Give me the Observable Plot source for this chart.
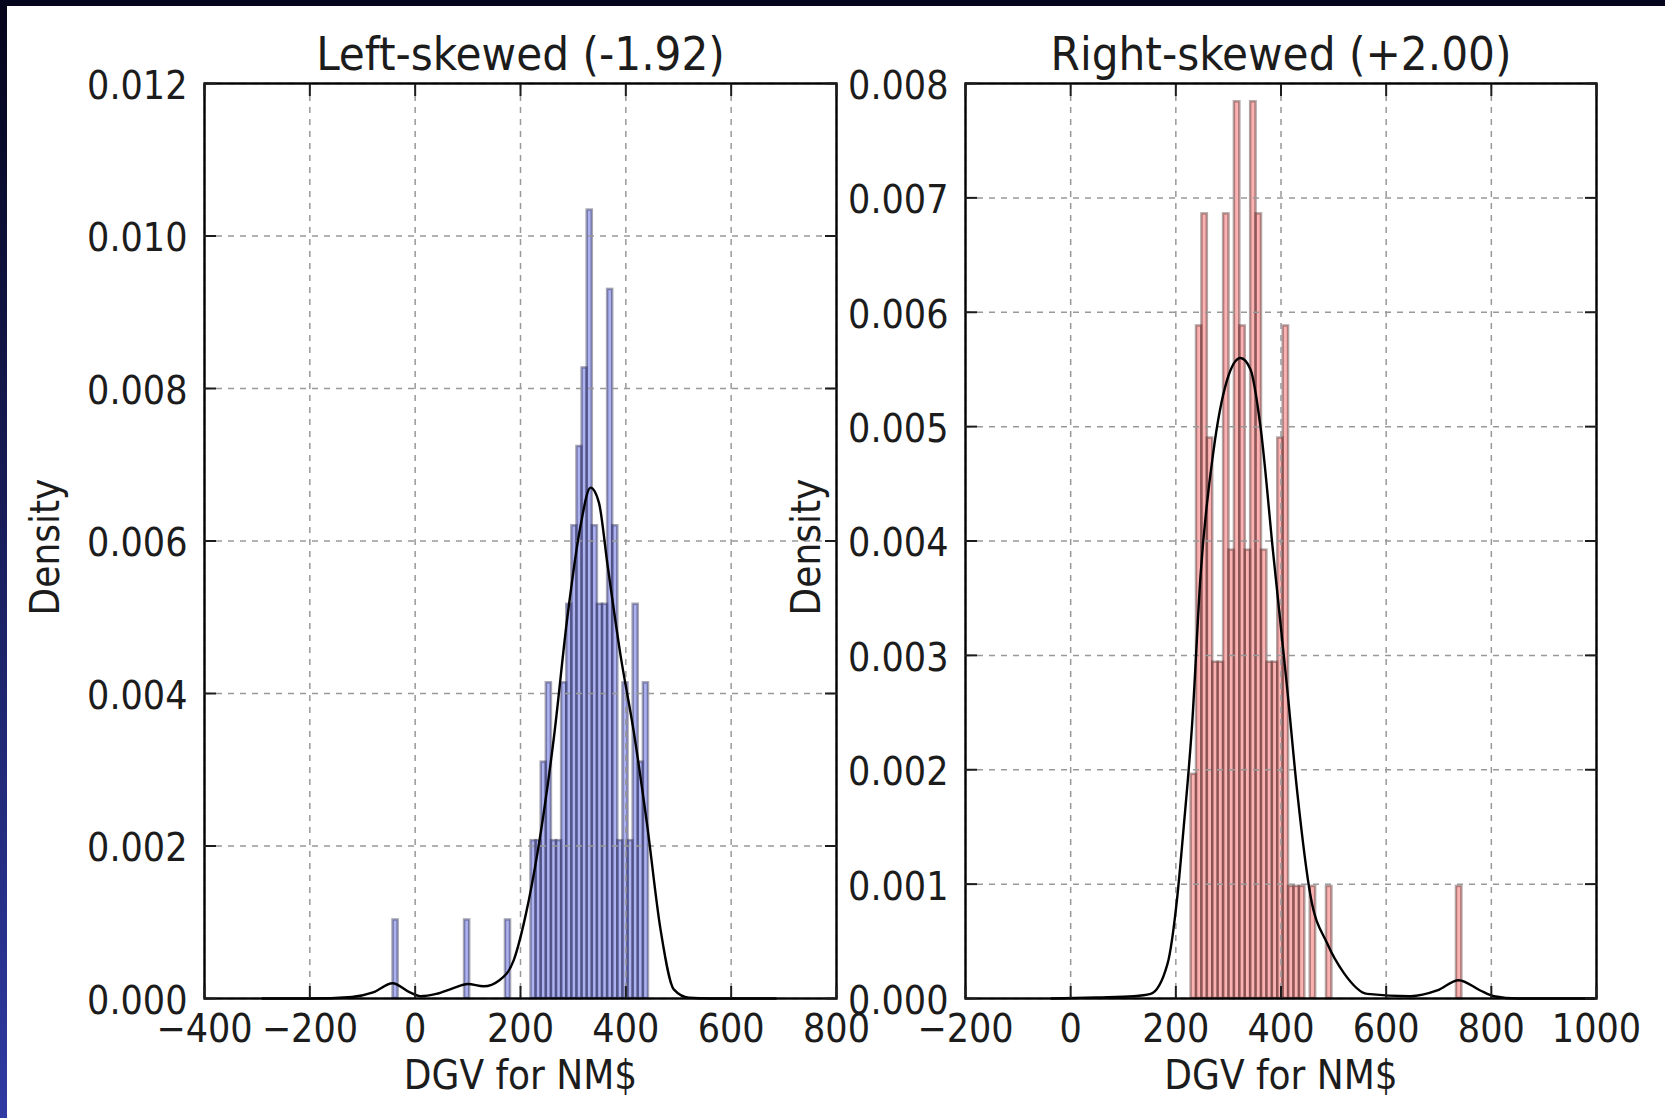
<!DOCTYPE html>
<html><head><meta charset="utf-8">
<script src="https://cdn.jsdelivr.net/npm/d3@7"></script>
<script src="https://cdn.jsdelivr.net/npm/@observablehq/plot@0.6"></script>
<style>
html,body{margin:0;padding:0;background:#fff;}
#page{position:relative;width:1665px;height:1118px;overflow:hidden;background:#fff;}
#topband{position:absolute;left:0;top:0;width:1665px;height:6px;background:#05051e;z-index:5;}
#leftband{position:absolute;left:0;top:0;width:7px;height:1118px;background:linear-gradient(#04041a,#2f3aa3);z-index:5;}
.panel{position:absolute;top:0;}
</style></head><body>
<div id="page"><div id="leftband"></div><div id="topband"></div></div>
<script>
// ---- data ----
const leftTitle = "Left-skewed (-1.92)";
const rightTitle = "Right-skewed (+2.00)";
const xLabel = "DGV for NM$";
const yLabel = "Density";

const leftXTicks = [-400, -200, 0, 200, 400, 600, 800];
const leftYTicks = [0, 0.002, 0.004, 0.006, 0.008, 0.010, 0.012];
const rightXTicks = [-200, 0, 200, 400, 600, 800, 1000];
const rightYTicks = [0, 0.001, 0.002, 0.003, 0.004, 0.005, 0.006, 0.007, 0.008];

// histogram: 50 equal bins over [lo, hi], densities per bin
const leftBinRange = [-42, 443];
const leftDensity = [
  0.00103, 0, 0, 0, 0, 0, 0, 0, 0, 0,
  0, 0, 0, 0, 0.00103, 0, 0, 0, 0, 0,
  0, 0, 0.00103, 0, 0, 0, 0, 0.00207, 0.00207, 0.0031,
  0.00414, 0.00207, 0.00207, 0.00414, 0.00517, 0.0062, 0.00724, 0.00827, 0.01034, 0.0062,
  0.00517, 0.00517, 0.0093, 0.0062, 0.00207, 0.00414, 0.00207, 0.00517, 0.0031, 0.00414
];
const rightBinRange = [229, 744];
const rightDensity = [
  0.00196, 0.00588, 0.00686, 0.0049, 0.00294, 0.00294, 0.00686, 0.00392, 0.00784, 0.00588,
  0.00392, 0.00784, 0.00686, 0.00392, 0.00294, 0.00294, 0.0049, 0.00588, 0.00098, 0.00098,
  0.00098, 0, 0.00098, 0, 0, 0.00098, 0, 0, 0, 0,
  0, 0, 0, 0, 0, 0, 0, 0, 0, 0,
  0, 0, 0, 0, 0, 0, 0, 0, 0, 0.00098
];

// KDE curves
const leftKdeX = [-290, -200, -120, -80, -43, -10, 10, 40, 70, 100, 130, 160, 187, 210, 232, 263, 289, 314, 333, 349, 365, 390, 415, 440, 466, 491, 520, 560, 685];
const leftKdeY = [0, 0, 0.00002, 0.00008, 0.0002, 0.00008, 0.00003, 0.00006, 0.00013, 0.00019, 0.00016, 0.00024, 0.0005, 0.0011, 0.0019, 0.0034, 0.005, 0.0062, 0.0067, 0.0065, 0.0057, 0.0045, 0.0035, 0.0023, 0.0009, 0.00012, 0.00001, 0, 0];
const rightKdeX = [-36, 50, 120, 152, 184, 203, 215, 231, 247, 272, 297, 323, 342, 361, 385, 412, 431, 456, 488, 520, 564, 646, 697, 738, 779, 805, 850, 995];
const rightKdeY = [0, 0.00001, 0.00002, 0.00004, 0.0003, 0.0009, 0.0015, 0.0024, 0.0037, 0.0048, 0.0054, 0.0056, 0.0055, 0.005, 0.0039, 0.0027, 0.0018, 0.0009, 0.00048, 0.00022, 0.00004, 0.00002, 0.00007, 0.00016, 0.00007, 0.00002, 0, 0];

// ---- drawing ----
const FONT = "'DejaVu Sans Condensed', 'DejaVu Sans', sans-serif";
const fmtX = d => d < 0 ? "\u2212" + Math.abs(d) : String(d);
const fmtY = d3.format(".3f");

function panel(o) {
  const n = o.density.length, bw = (o.binRange[1] - o.binRange[0]) / n;
  const bins = o.density.map((d, i) => ({x1: o.binRange[0] + i * bw, x2: o.binRange[0] + (i + 1) * bw, y: d})).filter(b => b.y > 0);
  const kde = o.kdeX.map((x, i) => ({x, y: o.kdeY[i]}));
  const grid = {stroke: "#999", strokeOpacity: 1, strokeDasharray: "6,6", strokeWidth: 1.5};
  return Plot.plot({
    width: o.width, height: 1118,
    marginLeft: o.marginLeft, marginRight: o.marginRight, marginTop: 83, marginBottom: 120,
    style: {background: "transparent", fontFamily: FONT, fontStretch: "condensed", color: "#1c1c1c", overflow: "visible"},
    x: {domain: o.xDomain}, y: {domain: o.yDomain},
    marks: [
      Plot.rect(bins, {x1: "x1", x2: "x2", y1: 0, y2: "y", fill: o.fill, fillOpacity: 0.42, stroke: o.edge, strokeOpacity: 0.38, strokeWidth: 2.5}),
      Plot.gridX(o.xTicks, grid),
      Plot.gridY(o.yTicks, grid),
      Plot.line(kde, {x: "x", y: "y", stroke: "#000", strokeWidth: 2.4, curve: "monotone-x"}),
      Plot.frame({stroke: "#000", strokeWidth: 2.4}),
      Plot.axisX(o.xTicks, {anchor: "bottom", tickSize: 0, tickPadding: 16, fontSize: 39, label: null, tickFormat: fmtX}),
      Plot.axisX(o.xTicks, {anchor: "bottom", tickSize: 12, dy: -12, strokeWidth: 2, tickFormat: () => "", label: null}),
      Plot.axisX(o.xTicks, {anchor: "top", tickSize: 12, dy: 12, strokeWidth: 2, tickFormat: () => "", label: null}),
      Plot.axisY(o.yTicks, {anchor: "left", tickSize: 0, tickPadding: 17, dy: 3, fontSize: 39, label: null, tickFormat: fmtY}),
      Plot.axisY(o.yTicks, {anchor: "left", tickSize: 12, dx: 12, strokeWidth: 2, tickFormat: () => "", label: null}),
      Plot.axisY(o.yTicks, {anchor: "right", tickSize: 12, dx: -12, strokeWidth: 2, tickFormat: () => "", label: null}),
      Plot.text([o.title], {frameAnchor: "top", dy: -14, lineAnchor: "bottom", fontSize: 47}),
      Plot.text([xLabel], {frameAnchor: "bottom", dy: 90, fontSize: 40}),
      Plot.text([yLabel], {frameAnchor: "left", dx: -158, dy: 6, rotate: -90, textAnchor: "middle", fontSize: 40})
    ]
  });
}

const page = document.getElementById("page");
const left = panel({title: leftTitle, xDomain: [-400, 800], yDomain: [0, 0.012], xTicks: leftXTicks, yTicks: leftYTicks,
  binRange: leftBinRange, density: leftDensity, kdeX: leftKdeX, kdeY: leftKdeY, fill: "#3a44d9", edge: "#14143a",
  width: 880, marginLeft: 204, marginRight: 44});
left.classList.add("panel"); left.style.left = "0px";
const right = panel({title: rightTitle, xDomain: [-200, 1000], yDomain: [0, 0.008], xTicks: rightXTicks, yTicks: rightYTicks,
  binRange: rightBinRange, density: rightDensity, kdeX: rightKdeX, kdeY: rightKdeY, fill: "#f24848", edge: "#3a1414",
  width: 905, marginLeft: 205, marginRight: 69});
right.classList.add("panel"); right.style.left = "760px";
page.appendChild(left);
page.appendChild(right);
</script>
</body></html>
